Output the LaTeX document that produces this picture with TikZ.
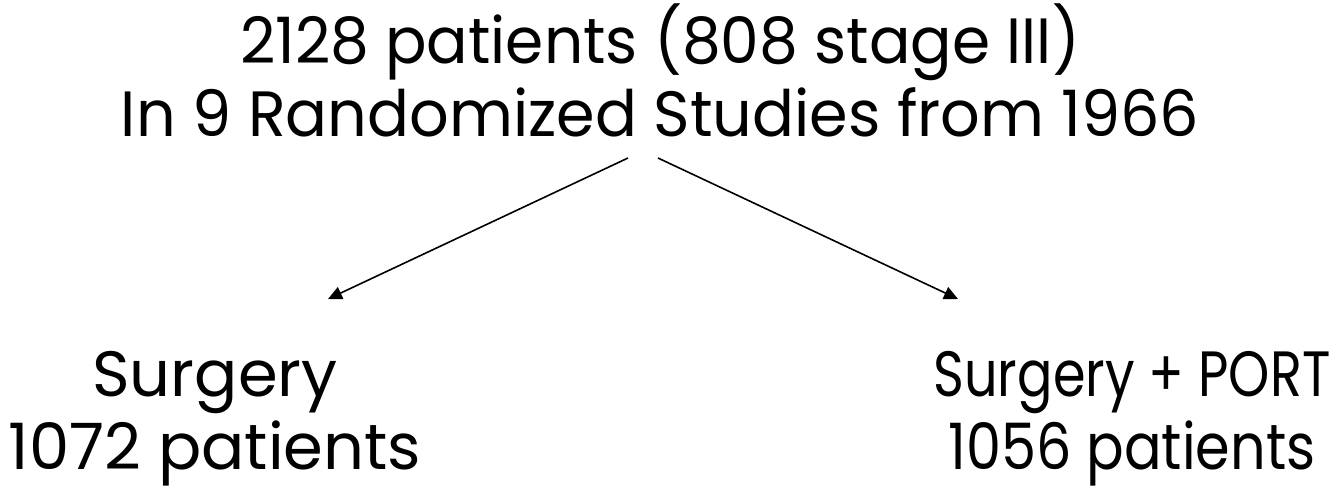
\documentclass[tikz,border=0pt]{standalone}
\usepackage{fontspec}
\setmainfont{Poppins}
\usetikzlibrary{arrows.meta}
\tikzset{lbl/.style={align=center,font=\fontsize{64}{73}\selectfont,inner sep=0pt,anchor=base},
 conn/.style={line width=1.6pt,-{Triangle[length=14pt,width=13pt]}}}
\begin{document}
\begin{tikzpicture}
\useasboundingbox (0,0) rectangle (1341pt,-493pt);
\node[lbl] (top) at (660pt,-136pt) {\scalebox{0.96}[1]{2128 patients (808 stage III)}\\\scalebox{0.97}[1]{In 9 Randomized Studies from 1966}};
\node[lbl] (left) at (215pt,-469pt) {Surgery\\1072 patients};
\node[lbl] (right) at (1132pt,-469pt) {\scalebox{0.82}[1]{Surgery + PORT}\\\scalebox{0.87}[1]{1056 patients}};
\coordinate (s1) at (628pt,-158pt);
\coordinate (s2) at (658pt,-158pt);
\coordinate (e1) at (328pt,-299pt);
\coordinate (e2) at (958pt,-299pt);
\draw[conn] (s1) -- (e1);
\draw[conn] (s2) -- (e2);
\end{tikzpicture}
\end{document}
